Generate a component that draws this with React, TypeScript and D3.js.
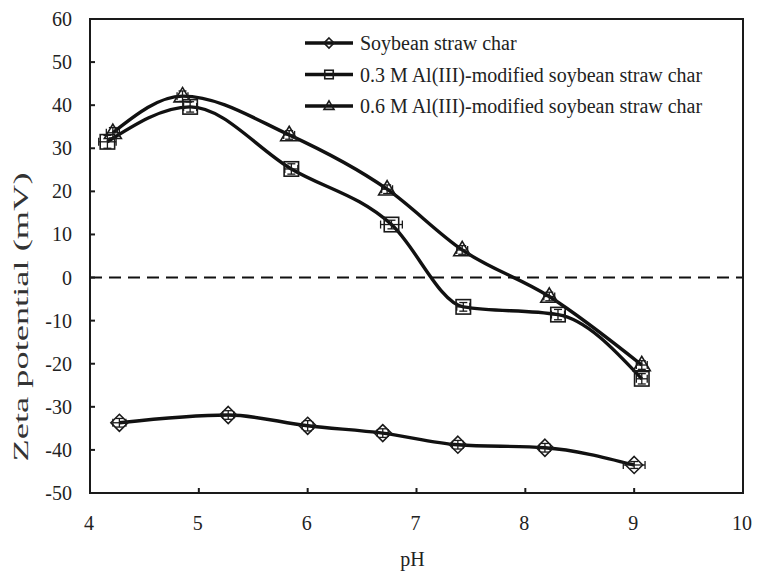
import React from "react";
import * as d3 from "d3";

const xTicks = [4, 5, 6, 7, 8, 9, 10];
const yTicks = [60, 50, 40, 30, 20, 10, 0, -10, -20, -30, -40, -50];

const seriesNames = [
  "Soybean straw char",
  "0.3 M Al(III)-modified soybean straw char",
  "0.6 M Al(III)-modified soybean straw char",
];
const markerTypes = ["diamond", "square", "triangle"];

const soyPH = [4.27, 5.27, 6.0, 6.69, 7.38, 8.18, 9.0];
const soyZeta = [-33.7, -31.9, -34.4, -36.1, -38.8, -39.5, -43.5];
const soyXErr = [0.06, 0.05, 0.05, 0.05, 0.05, 0.05, 0.1];
const soyYErr = [1.0, 1.0, 1.2, 1.0, 1.0, 1.0, 0.8];

const al03PH = [4.16, 4.92, 5.85, 6.77, 7.43, 8.3, 9.07];
const al03Zeta = [31.5, 39.6, 25.2, 12.3, -6.8, -8.6, -23.5];
const al03XErr = [0.08, 0.06, 0.06, 0.1, 0.06, 0.06, 0.05];
const al03YErr = [1.5, 1.2, 1.2, 1.0, 1.0, 1.2, 1.2];

const al06PH = [4.21, 4.85, 5.83, 6.73, 7.42, 8.22, 9.07];
const al06Zeta = [33.6, 42.1, 33.1, 20.5, 6.4, -4.4, -20.3];
const al06XErr = [0.06, 0.05, 0.05, 0.05, 0.05, 0.05, 0.05];
const al06YErr = [1.2, 1.2, 1.0, 1.0, 1.0, 1.0, 1.0];

const series = [
  { x: soyPH, y: soyZeta, xe: soyXErr, ye: soyYErr },
  { x: al03PH, y: al03Zeta, xe: al03XErr, ye: al03YErr },
  { x: al06PH, y: al06Zeta, xe: al06XErr, ye: al06YErr },
];

const W = 767;
const H = 571;
const L = 90, R = 743, T = 19, B = 493;
const FONT = "'Liberation Serif', 'Times New Roman', serif";

function Marker({ type, cx, cy, s }: { type: string; cx: number; cy: number; s: number }) {
  const st = { fill: "none", stroke: "#1a1a1a", strokeWidth: 1.6 };
  if (type === "diamond") {
    const p = `M${cx},${cy - s}L${cx + s},${cy}L${cx},${cy + s}L${cx - s},${cy}Z`;
    return <path d={p} {...st} />;
  }
  if (type === "square") {
    return <rect x={cx - s * 0.85} y={cy - s * 0.85} width={s * 1.7} height={s * 1.7} {...st} />;
  }
  const h = s * 1.7;
  const p = `M${cx},${cy - h * 0.6}L${cx + s},${cy + h * 0.4}L${cx - s},${cy + h * 0.4}Z`;
  return <path d={p} {...st} />;
}

export default function App() {
  const x = d3.scaleLinear().domain([4, 10]).range([L, R]);
  const y = d3.scaleLinear().domain([-50, 60]).range([B, T]);
  const line = d3
    .line<[number, number]>()
    .x((d) => x(d[0]))
    .y((d) => y(d[1]))
    .curve(d3.curveMonotoneX);

  return (
    <svg width={W} height={H} style={{ position: "absolute", left: 0, top: 0, background: "#fff" }} fontFamily={FONT}>
      <rect x={0} y={0} width={W} height={H} fill="#fff" />
      <line x1={L} x2={R} y1={y(0)} y2={y(0)} stroke="#111" strokeWidth={2} strokeDasharray="12,7" />
      <rect x={L} y={T} width={R - L} height={B - T} fill="none" stroke="#1a1a1a" strokeWidth={2} />
      {yTicks.map((t) => (
        <g key={"y" + t}>
          <line x1={L} x2={L + 5} y1={y(t)} y2={y(t)} stroke="#1a1a1a" strokeWidth={2} />
          <text x={72} y={y(t) + 7} textAnchor="end" fontSize={20} fill="#222">
            {t}
          </text>
        </g>
      ))}
      {xTicks.map((t) => (
        <g key={"x" + t}>
          <line x1={x(t)} x2={x(t)} y1={B} y2={B - 5} stroke="#1a1a1a" strokeWidth={2} />
          <text x={x(t) - 1} y={530} textAnchor="middle" fontSize={20} fill="#222">
            {t}
          </text>
        </g>
      ))}
      <text x={(L + R) / 2 - 4} y={566} textAnchor="middle" fontSize={20} fill="#222">
        pH
      </text>
      <text
        transform={`translate(28,${317}) rotate(-90)`}
        textAnchor="middle"
        fontSize={20}
        fill="#333"
        textLength={289}
        lengthAdjust="spacingAndGlyphs"
      >
        Zeta potential (mV)
      </text>
      {series.map((s, i) => {
        const pts = s.x.map((v, j) => [v, s.y[j]] as [number, number]);
        return (
          <g key={"s" + i}>
            <path d={line(pts) || ""} fill="none" stroke="#111" strokeWidth={3.4} strokeLinejoin="round" />
            {pts.map((p, j) => {
              const cx = x(p[0]);
              const cy = y(p[1]);
              const x0 = x(p[0] - s.xe[j]);
              const x1 = x(p[0] + s.xe[j]);
              const y0 = y(p[1] - s.ye[j]);
              const y1 = y(p[1] + s.ye[j]);
              return (
                <g key={j} stroke="#1a1a1a" strokeWidth={1.3}>
                  <line x1={x0} x2={x1} y1={cy} y2={cy} />
                  <line x1={x0} x2={x0} y1={cy - 4} y2={cy + 4} />
                  <line x1={x1} x2={x1} y1={cy - 4} y2={cy + 4} />
                  <line x1={cx} x2={cx} y1={y0} y2={y1} />
                  <line x1={cx - 4} x2={cx + 4} y1={y0} y2={y0} />
                  <line x1={cx - 4} x2={cx + 4} y1={y1} y2={y1} />
                  <Marker type={markerTypes[i]} cx={cx} cy={cy} s={8.5} />
                </g>
              );
            })}
          </g>
        );
      })}
      {seriesNames.map((n, i) => {
        const ly = 43 + i * 31.5;
        return (
          <g key={"l" + i}>
            <line x1={305} x2={353} y1={ly} y2={ly} stroke="#111" strokeWidth={3.4} />
            <Marker type={markerTypes[i]} cx={329} cy={ly} s={5} />
            <text x={360} y={ly + 7} fontSize={20} fill="#222">
              {n}
            </text>
          </g>
        );
      })}
    </svg>
  );
}
